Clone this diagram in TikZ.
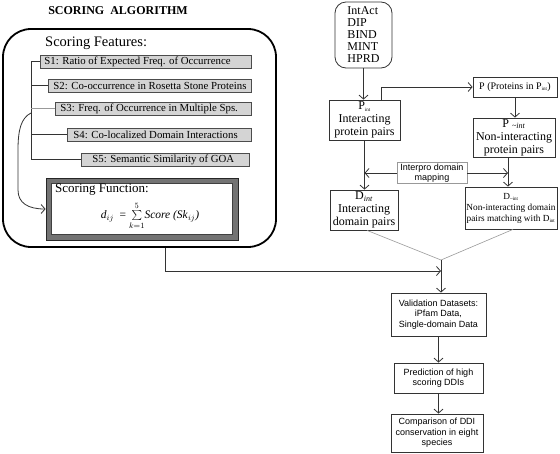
\documentclass[tikz,border=0pt]{standalone}
\usepackage{fontspec}
\setmainfont{Liberation Serif}
\setsansfont{Liberation Sans}
\usetikzlibrary{arrows.meta,calc}
\begin{document}
\begin{tikzpicture}[x=1pt,y=-1pt,
  line/.style={draw=black!80, line width=0.8pt},
  gline/.style={draw=black!40, line width=0.6pt},
  arr/.style={line, -{Straight Barb[length=4pt,width=9pt]}},
  sbox/.style={draw=black!70, fill=black!17, line width=0.7pt, minimum height=13pt, inner ysep=0pt, anchor=west, font=\fontsize{10.8}{12}\selectfont},
  rbox/.style={draw=black!80, line width=0.8pt, align=center, inner sep=1pt, font=\fontsize{12}{13}\selectfont},
  sfbox/.style={draw=black!80, line width=0.8pt, align=center, inner sep=1pt, font=\sffamily\fontsize{9}{10.5}\selectfont},
]
\useasboundingbox (0,0) rectangle (560,453);

% left part
\node[font=\bfseries\fontsize{12}{14}\selectfont] (title) at (118,11) {SCORING\ \ ALGORITHM};
\node[draw=black, line width=1.8pt, rounded corners=28pt, minimum width=273pt, minimum height=218pt] (big) at (139.5,138) {};
\node[anchor=west, inner sep=0pt, font=\fontsize{14.5}{16}\selectfont] (feat) at (45,43) {Scoring Features:};

\node[sbox, inner xsep=4pt] (S1) at (40,61.5) {\makebox[203pt][l]{S1: Ratio of Expected Freq. of Occurrence}};
\node[sbox, inner xsep=5pt] (S2) at (48,85.5) {\makebox[193pt][l]{S2: Co-occurrence in Rosetta Stone Proteins}};
\node[sbox, inner xsep=5pt] (S3) at (55,108.5) {\makebox[186pt][l]{S3: Freq. of Occurrence in Multiple Sps.}};
\node[sbox, inner xsep=6pt] (S4) at (67,134.5) {\makebox[172pt][l]{S4: Co-localized Domain Interactions}};
\node[sbox, inner xsep=11pt] (S5) at (81,159.5) {\makebox[146pt][l]{S5: Semantic Similarity of GOA}};

\coordinate (br) at (31,0);
\draw[line] (S1.west) -- (S1.west -| br) -- (S5.west -| br) -- (S5.west);
\draw[line] (S2.west) -- (S2.west -| br);
\draw[gline] (S3.west) -- (S3.west -| br);
\draw[line] (S4.west) -- (S4.west -| br);

\node[draw=black!85, fill=black!55, line width=0.8pt, minimum width=192pt, minimum height=62pt] (sf) at (142,209) {};
\node[draw=black!75, fill=white, line width=0.7pt, minimum width=181pt, minimum height=51pt] (sfi) at (142,209) {};
\node[anchor=west, inner sep=0pt, font=\fontsize{13}{15}\selectfont] (sft) at (55,190) {Scoring Function:};
\node[inner sep=0pt, font=\fontsize{11.5}{13}\selectfont] (sff) at (150,216) {\textit{d}$_{ij}$ \ = $\sum\limits_{k=1}^{5}$\textit{Score (Sk}$_{ij}$\textit{)}};

\coordinate (cs) at (31,113);
\draw[arr] (cs) .. controls (21,118) and (18,130) .. (18,150) -- (18,190) .. controls (18,203) and (28,209) .. (sf.west);

% right part
\node[draw=black!80, line width=0.8pt, rounded corners=11pt, minimum width=57pt, minimum height=66pt, align=left, inner sep=1pt, font=\fontsize{12}{12}\selectfont] (src) at (363.5,35) {IntAct\\DIP\\BIND\\MINT\\HPRD};
\node[rbox, minimum width=71pt, minimum height=40pt] (Pint) at (364.5,120) {P\textsubscript{\tiny int}\\Interacting\\protein pairs};
\node[rbox, minimum width=84pt, minimum height=20pt, font=\fontsize{10}{12}\selectfont] (P) at (515,87) {P (Proteins in P\textsubscript{\tiny int})};
\node[rbox, minimum width=82pt, minimum height=39pt] (Pnint) at (514,137.5) {P \textsubscript{\textit{\textasciitilde int}}\\Non-interacting\\protein pairs};
\node[sfbox, draw=black!40, minimum width=70pt, minimum height=20pt] (Interpro) at (432,173) {Interpro domain\\mapping};
\node[rbox, minimum width=68pt, minimum height=40pt] (Dint) at (364,210) {D\textsubscript{\textit{int}}\\Interacting\\domain pairs};
\node[rbox, minimum width=92pt, minimum height=42pt, font=\fontsize{9.3}{11}\selectfont] (Dnint) at (511,208) {D\textsubscript{\tiny\textasciitilde int}\\Non-interacting domain\\pairs matching with D\textsubscript{\tiny int}};

\draw[arr] (src.south) -- (src.south |- Pint.north);
\draw[arr] ([xshift=17pt]Pint.north) |- (P.west);
\draw[arr] (P.south) -- (P.south |- Pnint.north);
\draw[arr] (Pint.south) -- (Pint.south |- Dint.north);
\coordinate (m) at (508,173);
\draw[arr] (Interpro.west) -- (Interpro.west -| Pint.south);
\draw[arr] (Interpro.east) -- (m);
\draw[arr] (Pnint.south -| m) -- (m |- Dnint.north);

\node[sfbox, minimum width=95pt, minimum height=43pt] (Valid) at (438.5,314.5) {Validation Datasets:\\iPfam Data,\\Single-domain Data};
\node[sfbox, minimum width=89pt, minimum height=30pt] (Pred) at (438.5,378) {Prediction of high\\scoring DDIs};
\node[sfbox, minimum width=92pt, minimum height=38pt] (Comp) at (437,433) {Comparison of DDI\\conservation in eight\\species};

\coordinate (apex) at (441,260);
\draw[gline] ([xshift=3pt]Dint.south) -- (apex) -- ([xshift=2pt]Dnint.south);
\draw[arr] (apex) -- (apex |- Valid.north);
\coordinate (j) at (441,271);
\draw[arr] ([xshift=25.5pt]big.south) |- (j);
\draw[arr] (Valid.south) -- (Valid.south |- Pred.north);
\draw[arr] (Pred.south) -- (Pred.south |- Comp.north);
\end{tikzpicture}
\end{document}
